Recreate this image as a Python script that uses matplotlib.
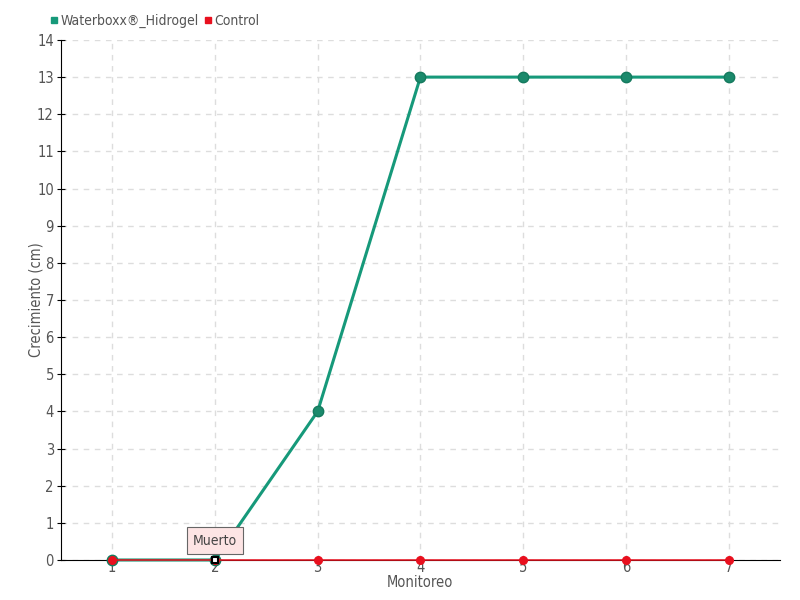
import matplotlib
matplotlib.use("Agg")
from matplotlib import pyplot as plt
from matplotlib.lines import Line2D

plt.rcParams['font.family'] = ['DejaVu Sans']
plt.rcParams['font.stretch'] = 'condensed'

monitoreo = [1, 2, 3, 4, 5, 6, 7]
waterboxx = [0, 0, 4, 13, 13, 13, 13]
control = [0, 0, 0, 0, 0, 0, 0]
muerto_idx = 1

green = '#16997a'
red = '#e8101e'
txt = '#555555'

fig = plt.figure(figsize=(8, 6), dpi=100)
ax = fig.add_axes([0.076, 0.0667, 0.899, 0.8667])

ax.plot(monitoreo, waterboxx, color=green, lw=2.2, marker='o', ms=7.5,
        mfc='#1b8a6c', mec='#157a5e', zorder=3, clip_on=False)
ax.plot(monitoreo, control, color=red, lw=1.1, marker='o', ms=5.5,
        mfc=red, mec=red, zorder=4, clip_on=False)
# dead plant marker
ax.plot(monitoreo[muerto_idx], waterboxx[muerto_idx], marker='s', ms=5,
        mfc='white', mec='black', mew=1.5, zorder=5, clip_on=False)
ax.annotate('Muerto', xy=(monitoreo[muerto_idx], waterboxx[muerto_idx]),
            xytext=(0, 14), textcoords='offset points', ha='center', va='center',
            fontsize=10, color='#444444',
            bbox=dict(boxstyle='square,pad=0.45', fc='#fde4e4', ec='#666666', lw=0.8),
            zorder=6)

ax.set_xlim(0.5, 7.5)
ax.set_ylim(0, 14)
ax.set_xticks(monitoreo)
ax.set_yticks(range(0, 15))
ax.grid(True, color='#dddddd', ls=(0, (4, 4)), lw=1)
ax.set_axisbelow(True)
for s in ['top', 'right']:
    ax.spines[s].set_visible(False)
ax.spines['left'].set_color('black')
ax.spines['bottom'].set_color('black')
ax.tick_params(axis='y', direction='inout', length=6, labelsize=10.5, labelcolor=txt, pad=2)
ax.tick_params(axis='x', direction='inout', length=6, labelsize=10.5, labelcolor=txt, pad=-3)
ax.set_xlabel('Monitoreo', fontsize=10.5, color=txt, labelpad=0)
ax.set_ylabel('Crecimiento (cm)', fontsize=10.5, color=txt, labelpad=-5)

handles = [Line2D([], [], ls='', marker='s', ms=4.5, color=green),
           Line2D([], [], ls='', marker='s', ms=4.5, color=red)]
leg = fig.legend(handles, ['Waterboxx®_Hidrogel', 'Control'], loc='upper left',
                 bbox_to_anchor=(0.048, 0.998), ncol=2, frameon=False, fontsize=10,
                 handlelength=0.5, handletextpad=0.2, columnspacing=0.4)
for t in leg.get_texts():
    t.set_color(txt)

fig.savefig('out.png', dpi=100)
